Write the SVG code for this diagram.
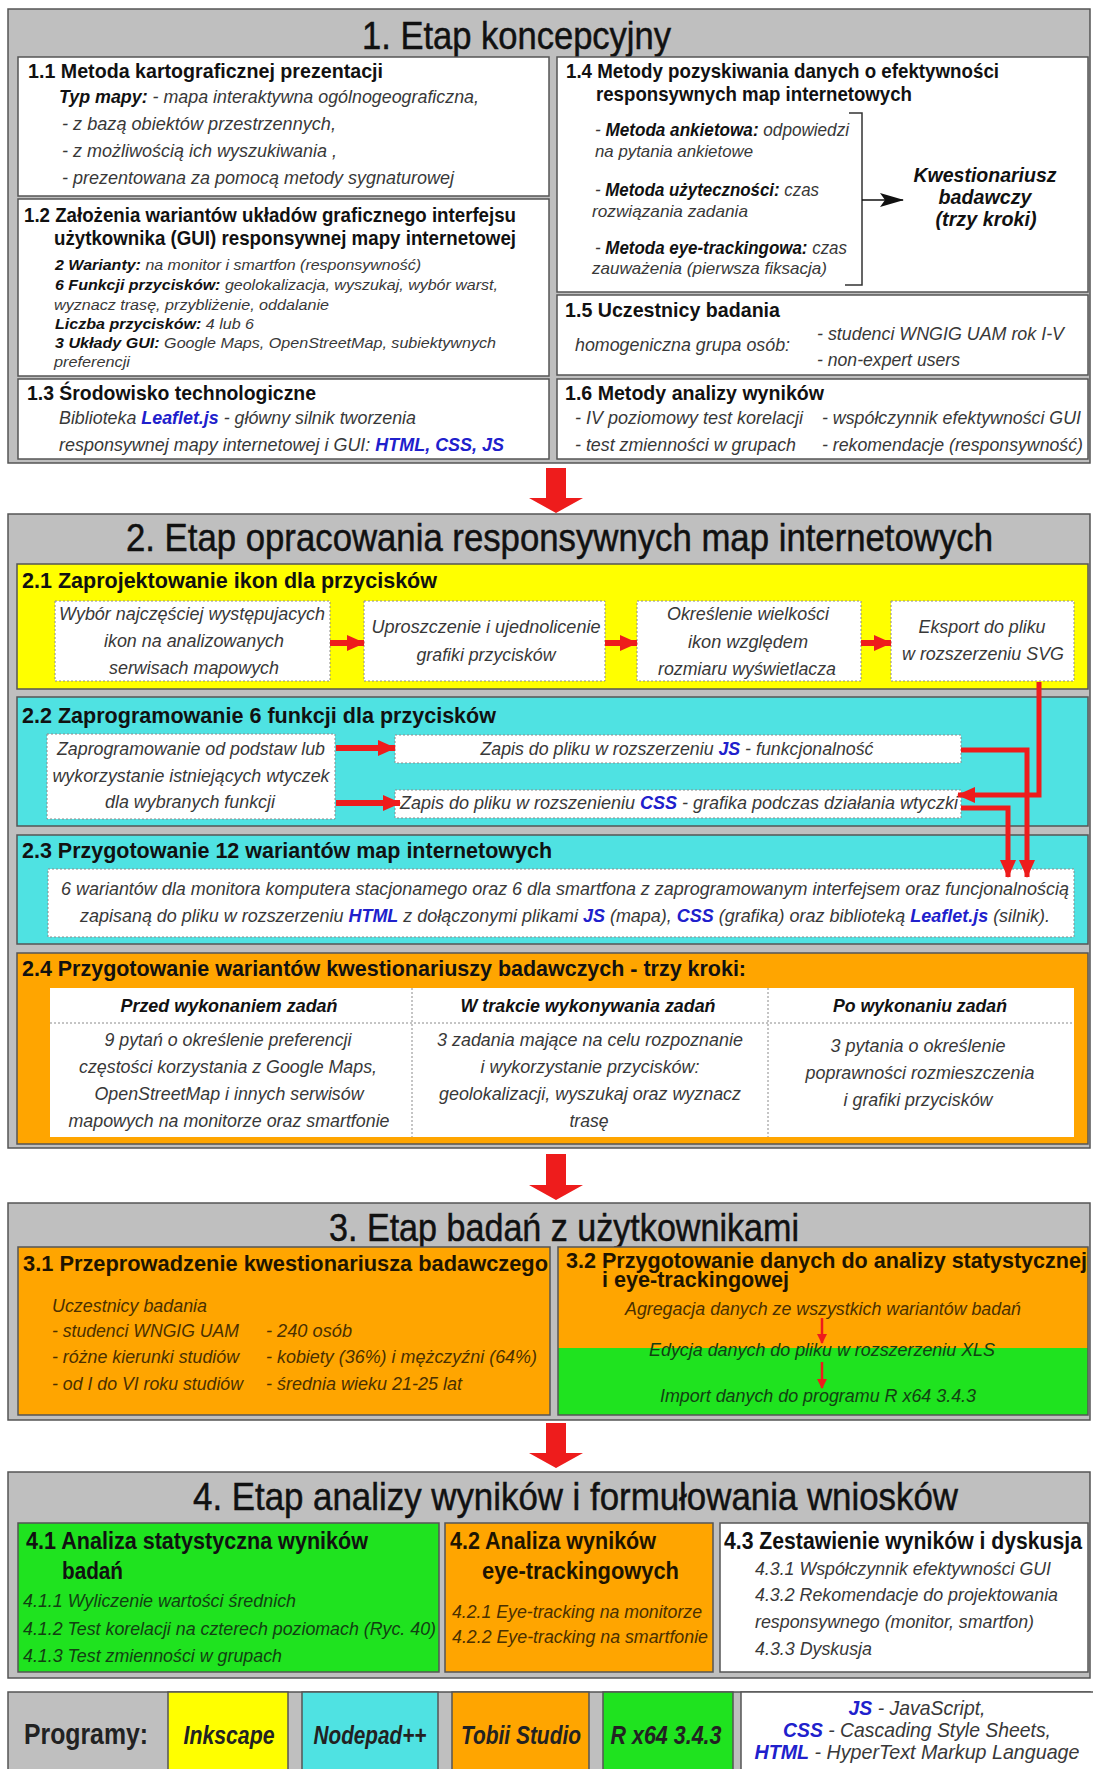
<svg xmlns="http://www.w3.org/2000/svg" width="1093" height="1769" viewBox="0 0 1093 1769">
<defs>
<style>
text { font-family: 'Liberation Sans', Arial, sans-serif; }
.title { font-size: 39px; fill: #111; stroke: #111; stroke-width: 0.5; }
.h { font-size: 21px; font-weight: bold; fill: #111; }
.h21 { font-size: 22.5px; font-weight: bold; fill: #111; }
.h23 { font-size: 24px; font-weight: bold; fill: #111; }
.it { font-style: italic; font-size: 18px; fill: #383838; }
.sm { font-size: 15px; }
.s2 { font-size: 16.5px; }
.bi { font-weight: bold; fill: #111; }
.bl { font-weight: bold; fill: #2020cc; }
.c { text-anchor: middle; }
.br { fill: #4a3000; }
.gr { fill: #124012; }
.stage { fill: #bfbfbf; stroke: #555; stroke-width: 1.5; }
.wbox { fill: #fff; stroke: #555; stroke-width: 1.5; }
.yel { fill: #ffff00; stroke: #555; stroke-width: 1.5; }
.cyan { fill: #4fe2e2; stroke: #555; stroke-width: 1.5; }
.orng { fill: #ffa500; stroke: #555; stroke-width: 1.5; }
.grn { fill: #1fe31f; stroke: #555; stroke-width: 1.5; }
.dbox { fill: #fff; stroke: #8a8a8a; stroke-width: 1; stroke-dasharray: 2 2; }
.dline { fill: none; stroke: #8a8a8a; stroke-width: 1; stroke-dasharray: 2 2; }
.big { fill: #ee1c1c; }
.red { fill: none; stroke: #ee1c1c; stroke-width: 6; }
.red5 { fill: none; stroke: #ee1c1c; stroke-width: 5; }
.red2 { fill: none; stroke: #ee1c1c; stroke-width: 2.5; }
</style>
<marker id="rh" markerUnits="userSpaceOnUse" viewBox="0 0 18 18" markerWidth="18" markerHeight="18" refX="17" refY="9" orient="auto">
<path d="M0,1 L18,9 L0,17 Z" fill="#ee1c1c"/>
</marker>
<marker id="rhs" markerUnits="userSpaceOnUse" viewBox="0 0 10 10" markerWidth="10" markerHeight="10" refX="9" refY="5" orient="auto">
<path d="M0,0 L10,5 L0,10 Z" fill="#ee1c1c"/>
</marker>
<marker id="bh" markerUnits="userSpaceOnUse" viewBox="0 0 24 14" markerWidth="24" markerHeight="14" refX="23" refY="7" orient="auto">
<path d="M0,0 L24,7 L0,14 L5,7 Z" fill="#111"/>
</marker>
</defs>

<rect width="1093" height="1769" fill="#fff"/>

<!-- Stage 1 -->
<g id="stage1">
<rect class="stage" x="8" y="9" width="1082" height="454"/>
<text class="title" x="362" y="49" textLength="309" lengthAdjust="spacingAndGlyphs">1. Etap koncepcyjny</text>
</g>

<g id="box-1-1">
<rect class="wbox" x="18" y="57" width="531" height="139"/>
<text class="h" x="28" y="78" textLength="355" lengthAdjust="spacingAndGlyphs">1.1 Metoda kartograficznej prezentacji</text>
<text class="it" x="59" y="103" textLength="420" lengthAdjust="spacingAndGlyphs"><tspan class="bi">Typ mapy:</tspan> - mapa interaktywna ogólnogeograficzna,</text>
<text class="it" x="62" y="130" textLength="274" lengthAdjust="spacingAndGlyphs">- z bazą obiektów przestrzennych,</text>
<text class="it" x="62" y="157" textLength="275" lengthAdjust="spacingAndGlyphs">- z możliwością ich wyszukiwania ,</text>
<text class="it" x="62" y="184" textLength="392" lengthAdjust="spacingAndGlyphs">- prezentowana za pomocą metody sygnaturowej</text>
</g>

<g id="box-1-2">
<rect class="wbox" x="18" y="199" width="531" height="177"/>
<text class="h" x="24" y="222" textLength="492" lengthAdjust="spacingAndGlyphs">1.2 Założenia wariantów układów graficznego interfejsu</text>
<text class="h" x="54" y="245" textLength="462" lengthAdjust="spacingAndGlyphs">użytkownika (GUI) responsywnej mapy internetowej</text>
<text class="it sm" x="55" y="270" textLength="366" lengthAdjust="spacingAndGlyphs"><tspan class="bi">2 Warianty:</tspan> na monitor i smartfon (responsywność)</text>
<text class="it sm" x="55" y="290" textLength="443" lengthAdjust="spacingAndGlyphs"><tspan class="bi">6 Funkcji przycisków:</tspan> geolokalizacja, wyszukaj, wybór warst,</text>
<text class="it sm" x="54" y="310" textLength="275" lengthAdjust="spacingAndGlyphs">wyznacz trasę, przybliżenie, oddalanie</text>
<text class="it sm" x="55" y="329" textLength="199" lengthAdjust="spacingAndGlyphs"><tspan class="bi">Liczba przycisków:</tspan> 4 lub 6</text>
<text class="it sm" x="55" y="348" textLength="441" lengthAdjust="spacingAndGlyphs"><tspan class="bi">3 Układy GUI:</tspan> Google Maps, OpenStreetMap, subiektywnych</text>
<text class="it sm" x="54" y="367" textLength="76" lengthAdjust="spacingAndGlyphs">preferencji</text>
</g>

<g id="box-1-3">
<rect class="wbox" x="18" y="379" width="531" height="80"/>
<text class="h" x="27" y="400" textLength="289" lengthAdjust="spacingAndGlyphs">1.3 Środowisko technologiczne</text>
<text class="it" x="59" y="424" textLength="357" lengthAdjust="spacingAndGlyphs">Biblioteka <tspan class="bl">Leaflet.js</tspan> - główny silnik tworzenia</text>
<text class="it" x="59" y="451" textLength="445" lengthAdjust="spacingAndGlyphs">responsywnej mapy internetowej i GUI: <tspan class="bl">HTML, CSS, JS</tspan></text>
</g>

<g id="box-1-4">
<rect class="wbox" x="557" y="57" width="531" height="235"/>
<text class="h" x="566" y="78" textLength="433" lengthAdjust="spacingAndGlyphs">1.4 Metody pozyskiwania danych o efektywności</text>
<text class="h" x="596" y="101" textLength="316" lengthAdjust="spacingAndGlyphs">responsywnych map internetowych</text>
<text class="it" x="595" y="136" textLength="254" lengthAdjust="spacingAndGlyphs">- <tspan class="bi">Metoda ankietowa:</tspan> odpowiedzi</text>
<text class="it s2" x="595" y="157" textLength="158" lengthAdjust="spacingAndGlyphs">na pytania ankietowe</text>
<text class="it" x="595" y="196" textLength="224" lengthAdjust="spacingAndGlyphs">- <tspan class="bi">Metoda użyteczności:</tspan> czas</text>
<text class="it s2" x="592" y="217" textLength="156" lengthAdjust="spacingAndGlyphs">rozwiązania zadania</text>
<text class="it" x="595" y="254" textLength="252" lengthAdjust="spacingAndGlyphs">- <tspan class="bi">Metoda eye-trackingowa:</tspan> czas</text>
<text class="it s2" x="592" y="274" textLength="235" lengthAdjust="spacingAndGlyphs">zauważenia (pierwsza fiksacja)</text>
<path d="M849,113 H862 V285 H845" fill="none" stroke="#333" stroke-width="1.5"/>
<text class="it bi c" x="985" y="182" style="font-size:21px" textLength="143" lengthAdjust="spacingAndGlyphs">Kwestionariusz</text>
<text class="it bi c" x="985" y="204" style="font-size:21px" textLength="93" lengthAdjust="spacingAndGlyphs">badawczy</text>
<text class="it bi c" x="986" y="226" style="font-size:21px" textLength="101" lengthAdjust="spacingAndGlyphs">(trzy kroki)</text>
</g>

<g id="box-1-5">
<rect class="wbox" x="557" y="295" width="531" height="80"/>
<text class="h" x="565" y="317" textLength="215" lengthAdjust="spacingAndGlyphs">1.5 Uczestnicy badania</text>
<text class="it" x="575" y="351" textLength="215" lengthAdjust="spacingAndGlyphs">homogeniczna grupa osób:</text>
<text class="it" x="817" y="340" textLength="247" lengthAdjust="spacingAndGlyphs">- studenci WNGIG UAM rok I-V</text>
<text class="it" x="817" y="366" textLength="143" lengthAdjust="spacingAndGlyphs">- non-expert users</text>
</g>

<g id="box-1-6">
<rect class="wbox" x="557" y="379" width="531" height="80"/>
<text class="h" x="565" y="400" textLength="259" lengthAdjust="spacingAndGlyphs">1.6 Metody analizy wyników</text>
<text class="it" x="575" y="424" textLength="228" lengthAdjust="spacingAndGlyphs">- IV poziomowy test korelacji</text>
<text class="it" x="575" y="451" textLength="221" lengthAdjust="spacingAndGlyphs">- test zmienności w grupach</text>
<text class="it" x="822" y="424" textLength="259" lengthAdjust="spacingAndGlyphs">- współczynnik efektywności GUI</text>
<text class="it" x="822" y="451" textLength="261" lengthAdjust="spacingAndGlyphs">- rekomendacje (responsywność)</text>
</g>

<!-- Stage 2 -->
<g id="stage2">
<rect class="stage" x="8" y="514" width="1082" height="634"/>
<text class="title" x="126" y="551" textLength="867" lengthAdjust="spacingAndGlyphs">2. Etap opracowania responsywnych map internetowych</text>
</g>

<g id="box-2-1">
<rect class="yel" x="17" y="564" width="1071" height="125"/>
<text class="h21" x="22" y="588" textLength="415" lengthAdjust="spacingAndGlyphs">2.1 Zaprojektowanie ikon dla przycisków</text>
<g id="step-2-1-a">
<rect class="dbox" x="55" y="601" width="275" height="80"/>
<text class="it c" x="192" y="620" textLength="266" lengthAdjust="spacingAndGlyphs">Wybór najczęściej występujacych</text>
<text class="it c" x="194" y="647" textLength="180" lengthAdjust="spacingAndGlyphs">ikon na analizowanych</text>
<text class="it c" x="194" y="674" textLength="170" lengthAdjust="spacingAndGlyphs">serwisach mapowych</text>
</g>
<g id="step-2-1-b">
<rect class="dbox" x="364" y="601" width="241" height="80"/>
<text class="it c" x="486" y="633" textLength="229" lengthAdjust="spacingAndGlyphs">Uproszczenie i ujednolicenie</text>
<text class="it c" x="486" y="661" textLength="139" lengthAdjust="spacingAndGlyphs">grafiki przycisków</text>
</g>
<g id="step-2-1-c">
<rect class="dbox" x="637" y="601" width="224" height="80"/>
<text class="it c" x="748" y="620" textLength="162" lengthAdjust="spacingAndGlyphs">Określenie wielkości</text>
<text class="it c" x="748" y="648" textLength="120" lengthAdjust="spacingAndGlyphs">ikon względem</text>
<text class="it c" x="747" y="675" textLength="178" lengthAdjust="spacingAndGlyphs">rozmiaru wyświetlacza</text>
</g>
<g id="step-2-1-d">
<rect class="dbox" x="891" y="601" width="183" height="80"/>
<text class="it c" x="982" y="633" textLength="127" lengthAdjust="spacingAndGlyphs">Eksport do pliku</text>
<text class="it c" x="983" y="660" textLength="162" lengthAdjust="spacingAndGlyphs">w rozszerzeniu SVG</text>
</g>
</g>

<g id="box-2-2">
<rect class="cyan" x="17" y="697" width="1071" height="129"/>
<text class="h21" x="22" y="723" textLength="474" lengthAdjust="spacingAndGlyphs">2.2 Zaprogramowanie 6 funkcji dla przycisków</text>
<g id="step-2-2-a">
<rect class="dbox" x="47" y="734" width="288" height="85"/>
<text class="it c" x="191" y="755" textLength="268" lengthAdjust="spacingAndGlyphs">Zaprogramowanie od podstaw lub</text>
<text class="it c" x="191" y="782" textLength="277" lengthAdjust="spacingAndGlyphs">wykorzystanie istniejących wtyczek</text>
<text class="it c" x="190" y="808" textLength="170" lengthAdjust="spacingAndGlyphs">dla wybranych funkcji</text>
</g>
<g id="step-2-2-js">
<rect class="dbox" x="395" y="735" width="566" height="28"/>
<text class="it c" x="677" y="755" textLength="393" lengthAdjust="spacingAndGlyphs">Zapis do pliku w rozszerzeniu <tspan class="bl">JS</tspan> - funkcjonalność</text>
</g>
<g id="step-2-2-css">
<rect class="dbox" x="395" y="790" width="566" height="28"/>
<text class="it" x="400" y="809" textLength="558" lengthAdjust="spacingAndGlyphs">Zapis do pliku w rozszenieniu <tspan class="bl">CSS</tspan> - grafika podczas działania wtyczki</text>
</g>
</g>

<g id="box-2-3">
<rect class="cyan" x="17" y="835" width="1071" height="109"/>
<text class="h21" x="22" y="858" textLength="530" lengthAdjust="spacingAndGlyphs">2.3 Przygotowanie 12 wariantów map internetowych</text>
<rect class="dbox" x="48" y="869" width="1026" height="68"/>
<text class="it" x="61" y="895" textLength="1008" lengthAdjust="spacingAndGlyphs">6 wariantów dla monitora komputera stacjonamego oraz 6 dla smartfona z zaprogramowanym interfejsem oraz funcjonalnością</text>
<text class="it" x="80" y="922" textLength="970" lengthAdjust="spacingAndGlyphs">zapisaną do pliku w rozszerzeniu <tspan class="bl">HTML</tspan> z dołączonymi plikami <tspan class="bl">JS</tspan> (mapa), <tspan class="bl">CSS</tspan> (grafika) oraz biblioteką <tspan class="bl">Leaflet.js</tspan> (silnik).</text>
</g>

<g id="box-2-4">
<rect class="orng" x="17" y="953" width="1071" height="191"/>
<text class="h21" x="22" y="976" textLength="724" lengthAdjust="spacingAndGlyphs">2.4 Przygotowanie wariantów kwestionariuszy badawczych - trzy kroki:</text>
<rect x="50" y="988" width="1024" height="149" fill="#fff"/>
<path class="dline" d="M50,1023 H1074 M412,988 V1137 M768,988 V1137"/>
<text class="it bi c" x="229" y="1012" textLength="217" lengthAdjust="spacingAndGlyphs">Przed wykonaniem zadań</text>
<text class="it bi c" x="588" y="1012" textLength="255" lengthAdjust="spacingAndGlyphs">W trakcie wykonywania zadań</text>
<text class="it bi c" x="920" y="1012" textLength="174" lengthAdjust="spacingAndGlyphs">Po wykonaniu zadań</text>
<text class="it c" x="228" y="1046" textLength="247" lengthAdjust="spacingAndGlyphs">9 pytań o określenie preferencji</text>
<text class="it c" x="228" y="1073" textLength="298" lengthAdjust="spacingAndGlyphs">częstości korzystania z Google Maps,</text>
<text class="it c" x="229" y="1100" textLength="269" lengthAdjust="spacingAndGlyphs">OpenStreetMap i innych serwisów</text>
<text class="it c" x="229" y="1127" textLength="321" lengthAdjust="spacingAndGlyphs">mapowych na monitorze oraz smartfonie</text>
<text class="it c" x="590" y="1046" textLength="306" lengthAdjust="spacingAndGlyphs">3 zadania mające na celu rozpoznanie</text>
<text class="it c" x="590" y="1073" textLength="219" lengthAdjust="spacingAndGlyphs">i wykorzystanie przycisków:</text>
<text class="it c" x="590" y="1100" textLength="302" lengthAdjust="spacingAndGlyphs">geolokalizacji, wyszukaj oraz wyznacz</text>
<text class="it c" x="589" y="1127" textLength="39" lengthAdjust="spacingAndGlyphs">trasę</text>
<text class="it c" x="918" y="1052" textLength="175" lengthAdjust="spacingAndGlyphs">3 pytania o określenie</text>
<text class="it c" x="920" y="1079" textLength="229" lengthAdjust="spacingAndGlyphs">poprawności rozmieszczenia</text>
<text class="it c" x="918" y="1106" textLength="149" lengthAdjust="spacingAndGlyphs">i grafiki przycisków</text>
</g>

<!-- Stage 3 -->
<g id="stage3">
<rect class="stage" x="8" y="1203" width="1082" height="217"/>
<text class="title" x="329" y="1241" textLength="470" lengthAdjust="spacingAndGlyphs">3. Etap badań z użytkownikami</text>
</g>

<g id="box-3-1">
<rect class="orng" x="18" y="1247" width="532" height="168"/>
<text class="h21" x="23" y="1271" style="fill:#1e1400" textLength="525" lengthAdjust="spacingAndGlyphs">3.1 Przeprowadzenie kwestionariusza badawczego</text>
<text class="it br" x="52" y="1312" textLength="155" lengthAdjust="spacingAndGlyphs">Uczestnicy badania</text>
<text class="it br" x="52" y="1337" textLength="187" lengthAdjust="spacingAndGlyphs">- studenci WNGIG UAM</text>
<text class="it br" x="52" y="1363" textLength="187" lengthAdjust="spacingAndGlyphs">- różne kierunki studiów</text>
<text class="it br" x="52" y="1390" textLength="191" lengthAdjust="spacingAndGlyphs">- od I do VI roku studiów</text>
<text class="it br" x="266" y="1337" textLength="86" lengthAdjust="spacingAndGlyphs">- 240 osób</text>
<text class="it br" x="266" y="1363" textLength="271" lengthAdjust="spacingAndGlyphs">- kobiety (36%) i mężczyźni (64%)</text>
<text class="it br" x="266" y="1390" textLength="196" lengthAdjust="spacingAndGlyphs">- średnia wieku 21-25 lat</text>
</g>

<g id="box-3-2">
<rect x="558" y="1247" width="530" height="168" fill="#ffa500"/>
<rect x="558" y="1348" width="530" height="67" fill="#1fe31f"/>
<rect x="558" y="1247" width="530" height="168" fill="none" stroke="#555" stroke-width="1.5"/>
<text class="h21" x="566" y="1268" style="fill:#1e1400" textLength="521" lengthAdjust="spacingAndGlyphs">3.2 Przygotowanie danych do analizy statystycznej</text>
<text class="h21" x="602" y="1287" style="fill:#1e1400" textLength="187" lengthAdjust="spacingAndGlyphs">i eye-trackingowej</text>
<text class="it br c" x="823" y="1315" textLength="396" lengthAdjust="spacingAndGlyphs">Agregacja danych ze wszystkich wariantów badań</text>
<text class="it gr c" x="822" y="1356" textLength="346" lengthAdjust="spacingAndGlyphs">Edycja danych do pliku w rozszerzeniu XLS</text>
<text class="it gr c" x="818" y="1402" textLength="316" lengthAdjust="spacingAndGlyphs">Import danych do programu R x64 3.4.3</text>
</g>

<!-- Stage 4 -->
<g id="stage4">
<rect class="stage" x="8" y="1472" width="1082" height="206"/>
<text class="title" x="193" y="1510" textLength="765" lengthAdjust="spacingAndGlyphs">4. Etap analizy wyników i formułowania wniosków</text>
</g>

<g id="box-4-1">
<rect class="grn" x="18" y="1523" width="421" height="149"/>
<text class="h23" x="26" y="1549" textLength="342" lengthAdjust="spacingAndGlyphs">4.1 Analiza statystyczna wyników</text>
<text class="h23" x="62" y="1579" textLength="61" lengthAdjust="spacingAndGlyphs">badań</text>
<text class="it gr" x="23" y="1607" textLength="273" lengthAdjust="spacingAndGlyphs">4.1.1 Wyliczenie wartości średnich</text>
<text class="it gr" x="23" y="1635" textLength="413" lengthAdjust="spacingAndGlyphs">4.1.2 Test korelacji na czterech poziomach (Ryc. 40)</text>
<text class="it gr" x="23" y="1662" textLength="259" lengthAdjust="spacingAndGlyphs">4.1.3 Test zmienności w grupach</text>
</g>

<g id="box-4-2">
<rect class="orng" x="445" y="1523" width="268" height="149"/>
<text class="h23" x="450" y="1549" style="fill:#1e1400" textLength="206" lengthAdjust="spacingAndGlyphs">4.2 Analiza wyników</text>
<text class="h23" x="482" y="1579" style="fill:#1e1400" textLength="197" lengthAdjust="spacingAndGlyphs">eye-trackingowych</text>
<text class="it br" x="452" y="1618" textLength="250" lengthAdjust="spacingAndGlyphs">4.2.1 Eye-tracking na monitorze</text>
<text class="it br" x="452" y="1643" textLength="256" lengthAdjust="spacingAndGlyphs">4.2.2 Eye-tracking na smartfonie</text>
</g>

<g id="box-4-3">
<rect class="wbox" x="720" y="1523" width="368" height="149"/>
<text class="h23" x="724" y="1549" textLength="358" lengthAdjust="spacingAndGlyphs">4.3 Zestawienie wyników i dyskusja</text>
<text class="it" x="755" y="1575" textLength="296" lengthAdjust="spacingAndGlyphs">4.3.1 Współczynnik efektywności GUI</text>
<text class="it" x="755" y="1601" textLength="303" lengthAdjust="spacingAndGlyphs">4.3.2 Rekomendacje do projektowania</text>
<text class="it" x="755" y="1628" textLength="279" lengthAdjust="spacingAndGlyphs">responsywnego (monitor, smartfon)</text>
<text class="it" x="755" y="1655" textLength="117" lengthAdjust="spacingAndGlyphs">4.3.3 Dyskusja</text>
</g>

<!-- Software bar -->
<g id="programs">
<rect class="stage" x="8" y="1692" width="1082" height="90"/>
<text x="24" y="1744" style="font-size:30px;font-weight:bold;fill:#222" textLength="124" lengthAdjust="spacingAndGlyphs">Programy:</text>
</g>
<g id="prog-inkscape">
<rect class="yel" x="168" y="1692" width="120" height="90"/>
<text class="c" x="229" y="1744" style="font-size:25px;font-weight:bold;font-style:italic;fill:#222" textLength="91" lengthAdjust="spacingAndGlyphs">Inkscape</text>
</g>
<g id="prog-notepad">
<rect class="cyan" x="302" y="1692" width="136" height="90"/>
<text class="c" x="370" y="1744" style="font-size:25px;font-weight:bold;font-style:italic;fill:#222" textLength="113" lengthAdjust="spacingAndGlyphs">Nodepad++</text>
</g>
<g id="prog-tobii">
<rect class="orng" x="452" y="1692" width="137" height="90"/>
<text class="c" x="521" y="1744" style="font-size:25px;font-weight:bold;font-style:italic;fill:#222" textLength="120" lengthAdjust="spacingAndGlyphs">Tobii Studio</text>
</g>
<g id="prog-r">
<rect class="grn" x="603" y="1692" width="130" height="90"/>
<text class="c" x="666" y="1744" style="font-size:25px;font-weight:bold;font-style:italic;fill:#222" textLength="111" lengthAdjust="spacingAndGlyphs">R x64 3.4.3</text>
</g>
<g id="legend">
<rect class="wbox" x="741" y="1692" width="360" height="90"/>
<text class="it c" x="917" y="1715" style="font-size:21px" textLength="137" lengthAdjust="spacingAndGlyphs"><tspan class="bl">JS</tspan> - JavaScript,</text>
<text class="it c" x="917" y="1737" style="font-size:21px" textLength="268" lengthAdjust="spacingAndGlyphs"><tspan class="bl">CSS</tspan> - Cascading Style Sheets,</text>
<text class="it c" x="917" y="1759" style="font-size:21px" textLength="325" lengthAdjust="spacingAndGlyphs"><tspan class="bl">HTML</tspan> - HyperText Markup Language</text>
</g>

<!-- Connectors -->
<g id="connectors">
<path class="big" d="M546,468 H566 V498 H583 L556,513 L529,498 H546 Z"/>
<path class="big" d="M546,1154 H566 V1185 H583 L556,1200 L529,1185 H546 Z"/>
<path class="big" d="M546,1423 H566 V1453 H583 L556,1468 L529,1453 H546 Z"/>
<line x1="862" y1="200" x2="903" y2="200" stroke="#111" stroke-width="1.5" marker-end="url(#bh)"/>
<line class="red" x1="330" y1="643" x2="364" y2="643" marker-end="url(#rh)"/>
<line class="red" x1="605" y1="643" x2="637" y2="643" marker-end="url(#rh)"/>
<line class="red" x1="861" y1="643" x2="891" y2="643" marker-end="url(#rh)"/>
<line class="red" x1="336" y1="748" x2="395" y2="748" marker-end="url(#rh)"/>
<line class="red" x1="336" y1="803" x2="400" y2="803" marker-end="url(#rh)"/>
<path class="red5" d="M1039,682 V795 H958" marker-end="url(#rh)"/>
<path class="red5" d="M961,750 H1027 V877" marker-end="url(#rh)"/>
<path class="red5" d="M961,808 H1008 V877" marker-end="url(#rh)"/>
<line class="red2" x1="822" y1="1318" x2="822" y2="1343" marker-end="url(#rhs)"/>
<line class="red2" x1="822" y1="1362" x2="822" y2="1388" marker-end="url(#rhs)"/>
</g>
</svg>
